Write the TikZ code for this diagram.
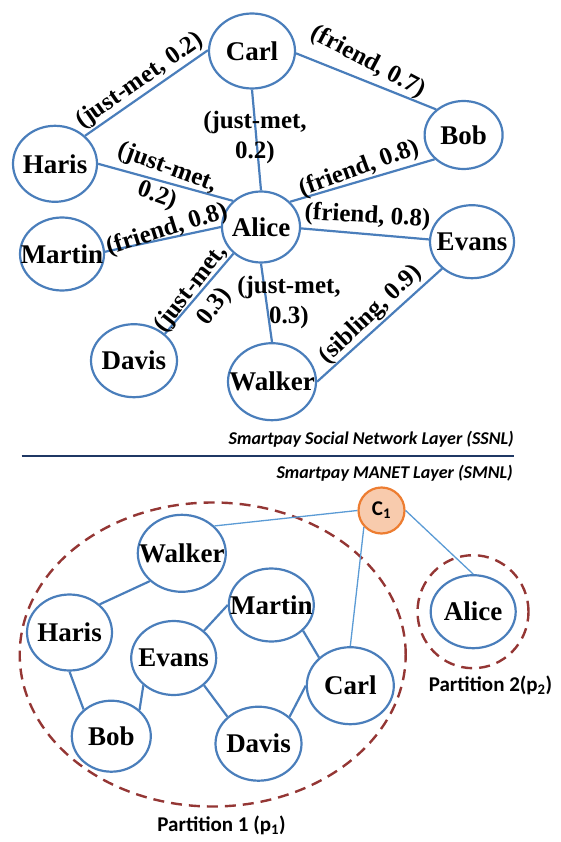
\documentclass[tikz,border=0pt]{standalone}
\usepackage{fontspec}
\setmainfont{Liberation Serif}
\newfontfamily\calfont{Carlito}
\usetikzlibrary{shapes.geometric}

\definecolor{netblue}{RGB}{74,126,187}
\definecolor{linkblue}{RGB}{91,155,213}
\definecolor{partred}{RGB}{148,54,52}
\definecolor{navyline}{RGB}{31,56,100}
\definecolor{chfill}{RGB}{248,203,173}
\definecolor{chdraw}{RGB}{237,125,49}

\tikzset{
  nametxt/.style={font=\fontsize{27}{30}\selectfont\bfseries, inner sep=0pt},
  pers/.style n args={3}{ellipse, draw=netblue, line width=2.2pt, inner sep=0pt,
    minimum width=#1pt, minimum height=#2pt, label={[nametxt]center:#3}},
  link/.style={draw=netblue, line width=2.2pt},
  thinlink/.style={draw=linkblue, line width=1.3pt},
  elbl/.style={font=\fontsize{25}{30}\selectfont\bfseries, inner sep=0pt, align=center},
  layertxt/.style={font=\calfont\fontsize{18}{21}\selectfont\bfseries\itshape, inner sep=0pt, anchor=east},
  parttxt/.style={font=\calfont\fontsize{21}{24}\selectfont\bfseries, inner sep=0pt},
  partring/.style n args={2}{ellipse, draw=partred, line width=2.4pt, dash pattern=on 11pt off 7pt,
    inner sep=0pt, minimum width=#1pt, minimum height=#2pt},
  clusterhead/.style={circle, draw=chdraw, fill=chfill, line width=2.2pt, inner sep=0pt,
    minimum size=46pt, font=\calfont\fontsize{21}{24}\selectfont\bfseries},
}

\begin{document}
\begin{tikzpicture}[x=1pt,y=-1pt]
\useasboundingbox (0,0) rectangle (560,842);

% ---------- Social network layer ----------
\node[pers={86}{75}{Carl}]    (carl)   at (252,51)    {};
\node[pers={78}{68}{Bob}]     (bob)    at (463.6,135) {};
\node[pers={84}{76}{Haris}]   (haris)  at (55,163.8)  {};
\node[pers={78}{71}{Alice}]   (alice)  at (261,227)   {};
\node[pers={84}{73}{Martin}]  (martin) at (62,254)    {};
\node[pers={84}{73}{Evans}]   (evans)  at (472,241.7) {};
\node[pers={86}{73}{Davis}]   (davis)  at (134,360.7) {};
\node[pers={88}{77}{Walker}]  (walker) at (272,381.7) {};

\draw[link] (haris.43)   -- (carl.179);
\draw[link] (carl.-3)    -- (bob.137);
\draw[link] (carl.south) -- (alice.north);
\draw[link] (haris.0)    -- (alice.137);
\draw[link] (bob.220)    -- (alice.41);
\draw[link] (martin.3)   -- (alice.180);
\draw[link] (alice.-2)   -- (evans.177);
\draw[link] (davis.41)   -- (alice.224);
\draw[link] (alice.south)-- (walker.north);
\draw[link] (walker.0)   -- (evans.222);

\node[elbl, rotate=35]   (lch) at (140,81)    {(just-met, 0.2)};
\node[elbl, rotate=-28]  (lcb) at (368,62)    {(friend, 0.7)};
\node[elbl]              (lca) at (255,137)   {(just-met,\\0.2)};
\node[elbl, rotate=-20]  (lha) at (162,182)   {(just-met,\\0.2)};
\node[elbl, rotate=20]   (lba) at (359,169)   {(friend, 0.8)};
\node[elbl, rotate=17.5] (lma) at (167,230)   {(friend, 0.8)};
\node[elbl, rotate=-3]   (lae) at (367.5,216.7) {(friend, 0.8)};
\node[elbl, rotate=52]   (lda) at (203,298)   {(just-met,\\0.3)};
\node[elbl]              (law) at (289,302)   {(just-met,\\0.3)};
\node[elbl, rotate=43.5] (lwe) at (370.6,315) {(sibling, 0.9)};

% ---------- layer separator ----------
\node[layertxt] (ssnl) at (514,439) {Smartpay Social Network Layer (SSNL)};
\coordinate (divL) at (21.5,455.7);
\coordinate (divR) at (514,455.7);
\draw[draw=navyline, line width=2pt] (divL) -- (divR);
\node[layertxt] (smnl) at (513,473) {Smartpay MANET Layer (SMNL)};

% ---------- MANET layer ----------
\node[partring={386}{304}] (part1) at (212.7,654.5) {};
\node[partring={111}{113}] (part2) at (473,611.7) {};

\node[pers={85}{73}{Alice}]   (alice2)  at (473.2,611.7) {};
\node[pers={88}{77}{Walker}]  (walker2) at (181.8,553.3) {};
\node[pers={85}{73}{Martin}]  (martin2) at (271.3,605)   {};
\node[pers={85}{76}{Haris}]   (haris2)  at (69.5,632.5)  {};
\node[pers={85}{74}{Evans}]   (evans2)  at (173.7,658)   {};
\node[pers={87}{77}{Carl}]    (carl2)   at (350.3,685.7) {};
\node[pers={79}{71}{Bob}]     (bob2)    at (111.3,736.2) {};
\node[pers={86}{74}{Davis}]   (davis2)  at (258.5,743.7) {};

\node[clusterhead] (c1) at (381.5,510.5) {C\textsubscript{1}};

\draw[link] (walker2.221) -- (haris2.43);
\draw[link] (haris2.270)  -- (bob2.136);
\draw[link] (bob2.43)     -- (evans2.222);
\draw[link] (evans2.42)   -- (martin2.180);
\draw[link] (evans2.-42)  -- (davis2.139);
\draw[link] (martin2.-39) -- (carl2.138);
\draw[link] (carl2.180)   -- (davis2.41);

\draw[thinlink] (c1.180) -- (walker2.40);
\draw[thinlink] (c1.223) -- (carl2.north);
\draw[thinlink] (c1.0)   -- (alice2.north);

\node[parttxt] (p1lbl) at (221.5,825) {Partition 1 (p\textsubscript{1})};
\node[parttxt] (p2lbl) at (490.5,685) {Partition 2(p\textsubscript{2})};
\end{tikzpicture}
\end{document}
